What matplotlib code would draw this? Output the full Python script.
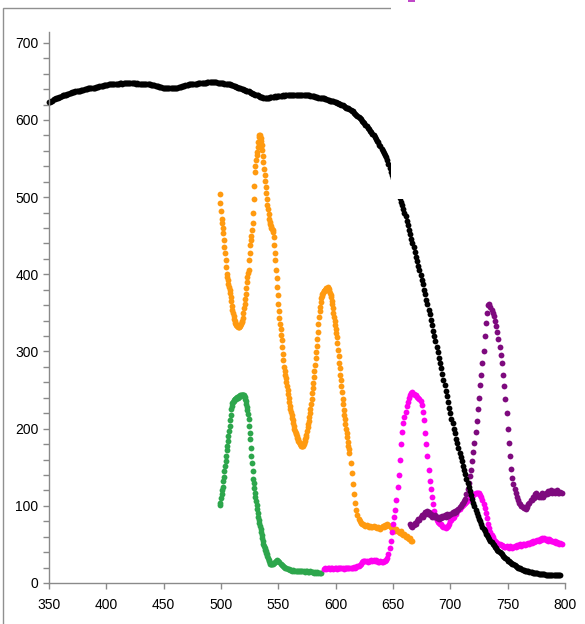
import numpy as np
import matplotlib
matplotlib.use("Agg")
import matplotlib.pyplot as plt
from matplotlib.ticker import MultipleLocator
from matplotlib.patches import Rectangle

plt.rcParams['font.family'] = ['Liberation Sans', 'DejaVu Sans']

# wavelength grids (nm)
black_x = np.arange(350, 797)
orange_x = np.concatenate([np.arange(499, 612.5, 0.5), np.arange(613, 668)])
green_x = np.concatenate([np.arange(499, 545.5, 0.5), np.arange(546, 588)])
magenta_x = np.arange(590, 798)
purple_x = np.arange(665, 798)

black_y = [
    623, 623, 625, 625, 627, 627, 628, 629, 629, 630,
    630, 631, 632, 632, 633, 633, 634, 634, 635, 635,
    636, 636, 636, 637, 637, 638, 638, 638, 639, 639,
    639, 640, 640, 640, 641, 641, 641, 642, 642, 642,
    642, 643, 643, 643, 644, 644, 644, 644, 645, 645,
    645, 645, 646, 646, 646, 646, 647, 647, 647, 647,
    647, 647, 648, 648, 647, 648, 648, 648, 648, 648,
    648, 648, 648, 648, 648, 648, 647, 648, 647, 647,
    647, 647, 647, 646, 647, 646, 646, 646, 646, 645,
    645, 645, 645, 644, 644, 644, 643, 643, 643, 642,
    642, 642, 642, 641, 641, 641, 641, 641, 641, 642,
    642, 642, 642, 643, 643, 643, 644, 644, 644, 645,
    645, 645, 646, 646, 646, 647, 647, 647, 647, 647,
    648, 648, 648, 648, 648, 648, 648, 648, 649, 649,
    649, 649, 649, 649, 649, 649, 649, 648, 648, 648,
    648, 648, 648, 647, 647, 647, 646, 646, 646, 645,
    645, 644, 644, 643, 643, 642, 641, 641, 640, 640,
    639, 639, 638, 637, 637, 636, 635, 635, 634, 634,
    633, 632, 632, 631, 630, 630, 630, 629, 629, 629,
    629, 629, 629, 630, 630, 630, 630, 631, 630, 631,
    631, 631, 631, 631, 632, 631, 632, 632, 632, 632,
    632, 632, 633, 632, 633, 633, 633, 633, 633, 633,
    633, 633, 633, 632, 632, 632, 632, 632, 631, 631,
    631, 631, 630, 630, 630, 629, 629, 629, 628, 628,
    628, 627, 627, 626, 626, 625, 625, 624, 624, 623,
    623, 622, 622, 621, 621, 620, 619, 618, 617, 616,
    615, 615, 614, 613, 612, 611, 609, 608, 607, 605,
    604, 603, 601, 599, 598, 596, 594, 592, 590, 588,
    586, 584, 582, 580, 578, 575, 573, 571, 568, 566,
    563, 560, 557, 555, 552, 548, 543, 538, 533, 529,
    525, 520, 516, 512, 507, 503, 499, 494, 490, 485,
    480, 475, 469, 464, 458, 452, 446, 440, 435, 429,
    423, 417, 411, 405, 399, 393, 387, 380, 374, 367,
    361, 354, 348, 341, 334, 327, 320, 313, 306, 299,
    292, 285, 278, 271, 263, 256, 249, 242, 234, 227,
    220, 213, 207, 200, 194, 187, 181, 175, 169, 163,
    158, 152, 146, 141, 135, 130, 125, 119, 114, 109,
    104, 100, 95, 91, 87, 83, 80, 76, 73, 70,
    67, 64, 62, 59, 57, 55, 53, 51, 49, 47,
    45, 43, 42, 40, 39, 37, 35, 34, 32, 31,
    29, 28, 27, 26, 25, 24, 23, 22, 21, 20,
    19, 19, 18, 17, 17, 16, 16, 15, 15, 14,
    14, 14, 13, 13, 13, 13, 13, 12, 12, 12,
    12, 12, 12, 11, 11, 11, 11, 11, 11, 10,
    10, 10, 10, 10, 10, 10, 10,
]

orange_y = [
    504, 492, 482, 472, 466, 460, 453, 444, 436, 427,
    418, 410, 401, 397, 392, 388, 383, 380, 376, 371,
    365, 359, 354, 350, 346, 342, 339, 337, 335, 334,
    333, 333, 332, 332, 332, 333, 334, 336, 338, 340,
    343, 350, 356, 362, 368, 375, 382, 390, 397, 402,
    406, 418, 428, 438, 444, 450, 457, 466, 480, 497,
    515, 532, 540, 548, 554, 559, 565, 572, 578, 581,
    580, 577, 573, 568, 561, 553, 545, 537, 529, 521,
    513, 505, 497, 490, 484, 478, 472, 468, 465, 462,
    460, 459, 458, 455, 448, 438, 428, 418, 406, 395,
    384, 373, 362, 352, 344, 336, 329, 322, 315, 306,
    297, 289, 280, 275, 270, 265, 260, 255, 250, 245,
    240, 235, 230, 226, 222, 218, 214, 211, 207, 204,
    200, 197, 195, 193, 190, 188, 186, 184, 183, 181,
    180, 179, 178, 178, 178, 178, 180, 182, 184, 186,
    189, 192, 197, 202, 206, 210, 215, 220, 226, 232,
    239, 246, 253, 259, 267, 275, 283, 291, 299, 307,
    316, 325, 335, 345, 352, 358, 364, 369, 372, 374,
    376, 378, 379, 380, 380, 381, 382, 381, 383, 382,
    381, 379, 376, 373, 370, 366, 361, 356, 350, 345,
    339, 334, 329, 324, 319, 311, 302, 294, 285, 278,
    270, 263, 255, 247, 239, 232, 224, 218, 212, 206,
    200, 194, 189, 183, 178, 173, 168,
    155, 142, 128, 115, 104, 95, 88, 83, 80, 78,
    76, 76, 75, 74, 75, 74, 73, 74, 73, 72,
    74, 73, 72, 71, 72, 71, 70, 72, 74, 73,
    75, 74, 76, 75, 74, 72, 70, 71, 69, 68,
    70, 67, 66, 65, 67, 64, 62, 63, 60, 61,
    58, 57, 58, 55, 54,
]

green_y = [
    101, 104, 110, 115, 120, 125, 132, 138, 145, 151,
    158, 165, 172, 178, 184, 190, 197, 204, 211, 218,
    225, 230, 233, 235, 236, 237, 238, 239, 238, 240,
    241, 240, 241, 242, 241, 243, 242, 243, 244, 243,
    244, 244, 243, 241, 239, 236, 232, 228, 224, 219,
    213, 204, 195, 186, 175, 165, 155, 145, 135, 129,
    123, 117, 111, 106, 101, 96, 91, 86, 82, 78,
    74, 70, 66, 62, 58, 54, 51, 48, 45, 43,
    41, 39, 37, 35, 32, 30, 28, 26, 25, 24,
    24, 24, 25,
    26, 27, 29, 30, 29, 27, 25, 23, 22, 21,
    20, 19, 18, 18, 17, 17, 16, 17, 16, 16,
    15, 16, 15, 15, 16, 15, 15, 14, 15, 16,
    14, 14, 15, 14, 14, 13, 14, 13, 14, 13,
    13, 13,
]

magenta_y = [
    18, 19, 18, 19, 19, 18, 19, 19, 18, 19,
    19, 18, 19, 19, 20, 19, 19, 18, 19, 19,
    20, 19, 20, 20, 19, 20, 21, 20, 21, 22,
    22, 23, 25, 27, 28, 29, 28, 28, 27, 28,
    29, 30, 29, 30, 29, 30, 28, 27, 27, 28,
    27, 27, 28, 29, 30, 33, 38, 46, 55, 66,
    76, 85, 95, 108, 124, 140, 160, 180, 196, 207,
    215, 222, 229, 235, 240, 243, 246, 247, 245, 243,
    243, 241, 240, 239, 236, 231, 222, 211, 195, 180,
    164, 146, 132, 122, 112, 102, 93, 87, 82, 79,
    78, 77, 76, 74, 72, 73, 71, 72, 74, 77,
    80, 82, 84, 86, 89, 90, 93, 95, 96, 98,
    100, 101, 103, 104, 105, 107, 108, 110, 112, 113,
    114, 115, 116, 117, 117, 116, 114, 112, 108, 103,
    97, 91, 84, 77, 71, 66, 62, 59, 56, 54,
    53, 52, 51, 50, 49, 49, 48, 47, 47, 48,
    47, 46, 48, 47, 46, 47, 48, 47, 49, 48,
    49, 50, 48, 50, 51, 49, 51, 50, 52, 51,
    53, 52, 54, 53, 55, 54, 56, 55, 57, 56,
    58, 57, 58, 56, 57, 55, 57, 56, 54, 55,
    53, 54, 52, 53, 52, 51, 52, 51,
]

purple_y = [
    76, 74, 73, 75, 78, 76, 80, 83, 82, 86,
    88, 85, 90, 92, 89, 93, 92, 88, 90, 86,
    87, 85, 88, 84, 86, 83, 85, 84, 87, 85,
    88, 86, 89, 87, 88, 90, 89, 92, 91, 93,
    92, 95, 96, 98, 100, 102, 104, 106, 109, 115,
    122, 130, 139, 147, 158, 170, 182, 196, 210, 225,
    240, 256, 270, 285, 300, 320, 337, 350, 360, 362,
    358, 354, 350, 346, 340, 333, 325, 316, 306, 296,
    285, 270, 255, 238, 220, 200, 182, 165, 148, 136,
    128, 122, 117, 112, 108, 104, 102, 100, 99, 97,
    98, 96, 99, 102, 104, 107, 108, 112, 110, 115,
    116, 113, 111, 114, 112, 116, 112, 114, 117, 115,
    119, 116, 118, 120, 117, 119, 116, 118, 120, 117,
    116, 118, 116,
]

fig = plt.figure(figsize=(5.85, 6.24), dpi=100)
ax = fig.add_axes([49 / 585, 1 - 583 / 624, 516 / 585, 551 / 624])

ms = 4.2
ax.plot(orange_x, orange_y, 'o', ms=ms, color='#FF9A10', mec='none', clip_on=False)
ax.plot(green_x, green_y, 'o', ms=ms, color='#2DA64C', mec='none', clip_on=False)
ax.plot(magenta_x, magenta_y, 'o', ms=ms, color='#FF00F0', mec='none', clip_on=False)
ax.plot(purple_x, purple_y, 'o', ms=ms, color='#7E0A7E', mec='none', clip_on=False)
ax.plot(black_x, black_y, 'o', ms=ms, color='black', mec='none', clip_on=False)

ax.set_xlim(350, 800)
ax.set_ylim(0, 714)
ax.set_xticks(np.arange(350, 801, 50))
ax.set_yticks(np.arange(0, 701, 100))
ax.yaxis.set_minor_locator(MultipleLocator(20))

for side in ['top', 'right']:
    ax.spines[side].set_visible(False)
for side in ['left', 'bottom']:
    ax.spines[side].set_color('#8a8a8a')
    ax.spines[side].set_linewidth(1)

ax.tick_params(axis='both', which='major', length=4, width=1, color='#8a8a8a',
               labelsize=10, labelcolor='black')
ax.tick_params(axis='x', which='major', pad=7)
ax.tick_params(axis='y', which='major', pad=3.5)
ax.tick_params(axis='y', which='minor', length=4, width=1, color='#8a8a8a')

# outer chart frame, partly hidden by a white block in the top right
fig.patches.append(Rectangle((3 / 585, -0.1), 1.2, 1.1 - 8 / 624, transform=fig.transFigure,
                             fill=False, edgecolor='#909090', linewidth=1, zorder=0))
fig.patches.append(Rectangle((391 / 585, 1 - 199 / 624), 1, 1, transform=fig.transFigure,
                             facecolor='white', edgecolor='none', zorder=10))
fig.patches.append(Rectangle((408 / 585, 1 - 2 / 624), 7 / 585, 2 / 624, transform=fig.transFigure,
                             facecolor='#C048C8', edgecolor='none', zorder=11))

fig.savefig('out.png', dpi=100)
